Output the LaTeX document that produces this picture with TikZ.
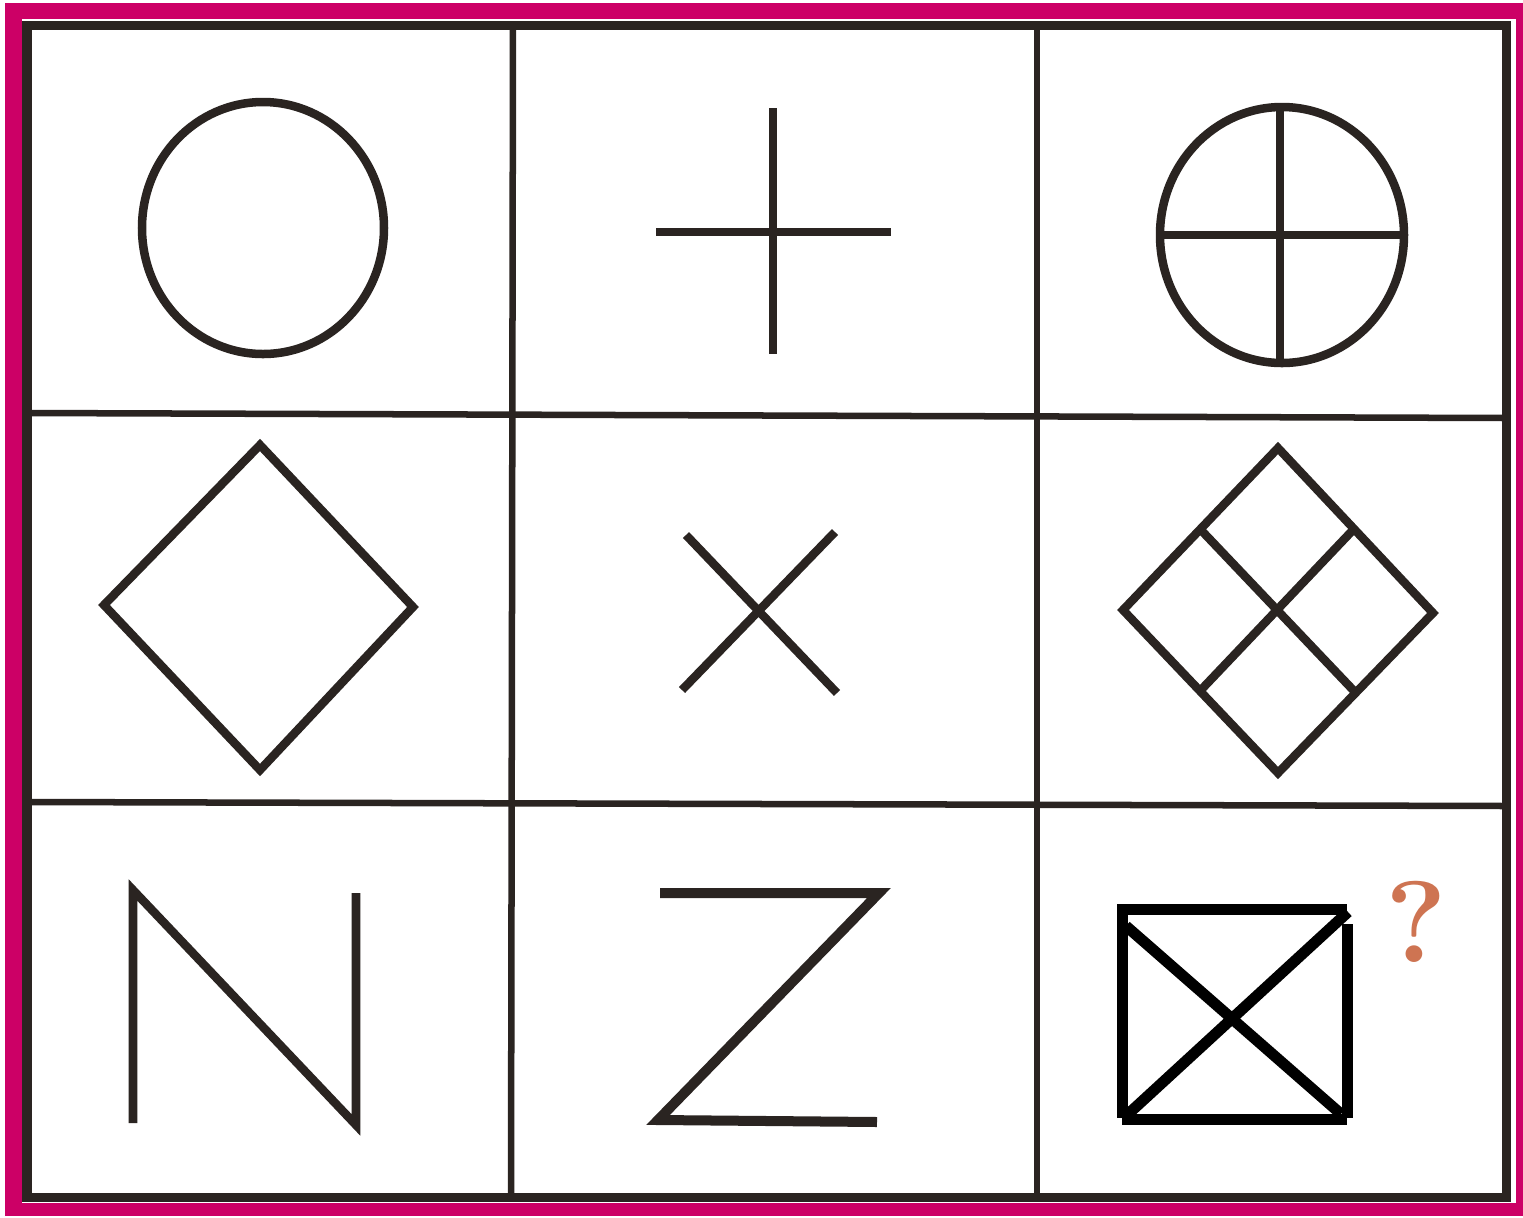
\documentclass[tikz,border=0pt]{standalone}
\usepackage{tikz}
\usetikzlibrary{%
	calc,%
	positioning,%
}
\definecolor{cframe}{RGB}{204, 0, 102}
\definecolor{cink}{RGB}{42, 36, 33}
\definecolor{cquery}{RGB}{206, 116, 82}
\tikzset{
	nodes={align=center},%
	gridline/.style={%
			draw=cink,%
			line width=0.065cm},%
	gridframe/.style={%
			draw=cink,%
			line width=0.09cm},%
	figure/.style={%
			draw=cink,%
			line width=0.085cm,%
			line join=miter},%
	answer/.style={%
			draw=black,%
			line width=0.11cm},%
	qmark/.style={%
			text=cquery,%
			inner sep=0pt,%
			font={\fontsize{33}{38}\selectfont\bfseries}},%
}

\begin{document}
\begin{tikzpicture}[x=0.01cm, y=-0.01cm]%
	\useasboundingbox (0,0) rectangle (1523,1217);
	% pink frame round the puzzle
	\fill[cframe] (5,3) rectangle (1523,1216);
	\fill[white] (22,19) rectangle (1516,1203);

	% the 3x3 grid
	\draw[gridframe] (27,25) rectangle (1506,1197);
	\draw[gridline] (513,25) -- (511,1197);
	\draw[gridline] (1037,25) -- (1037,1197);
	\draw[gridline] (27,413) -- (1506,418);
	\draw[gridline] (27,802) -- (1506,806);

	% row 1: circle, plus, circle with plus
	\draw[figure] (263,228) ellipse [x radius=121, y radius=126];
	\draw[figure] (656,232) -- (891,232);
	\draw[figure] (773,108) -- (773,354);
	\draw[figure] (1282,235) ellipse [x radius=122, y radius=128];
	\draw[figure] (1160,235) -- (1404,235);
	\draw[figure] (1280,107) -- (1280,363);

	% row 2: diamond, cross, diamond with cross
	\draw[figure] (260,445) -- (104,605) -- (260,770) -- (413,607) -- cycle;
	\draw[figure] (686,535) -- (837,693);
	\draw[figure] (835,532) -- (682,690);
	\draw[figure] (1278,448) -- (1123,610) -- (1278,773) -- (1433,613) -- cycle;
	\draw[figure] (1201,530) -- (1355,692);
	\draw[figure] (1352,531) -- (1200,691);

	% row 3: N, Z and the drawn answer
	\draw[figure] (133,1123) -- (133,890) -- (356,1125) -- (356,893);
	\draw[figure, line width=0.1cm] (660,893) -- (879,893) -- (658,1120) -- (877,1122);
	\draw[answer] (1122,909) -- (1347,909);
	\draw[answer] (1122,904) -- (1122,1118);
	\draw[answer] (1122,1119) -- (1347,1119);
	\draw[answer] (1347,924) -- (1347,1118);
	\draw[answer] (1126,926) -- (1341,1114);
	\draw[answer] (1348,912) -- (1126,1116);

	\node[qmark] (query) at (1416,922) {?};
\end{tikzpicture}
\end{document}
